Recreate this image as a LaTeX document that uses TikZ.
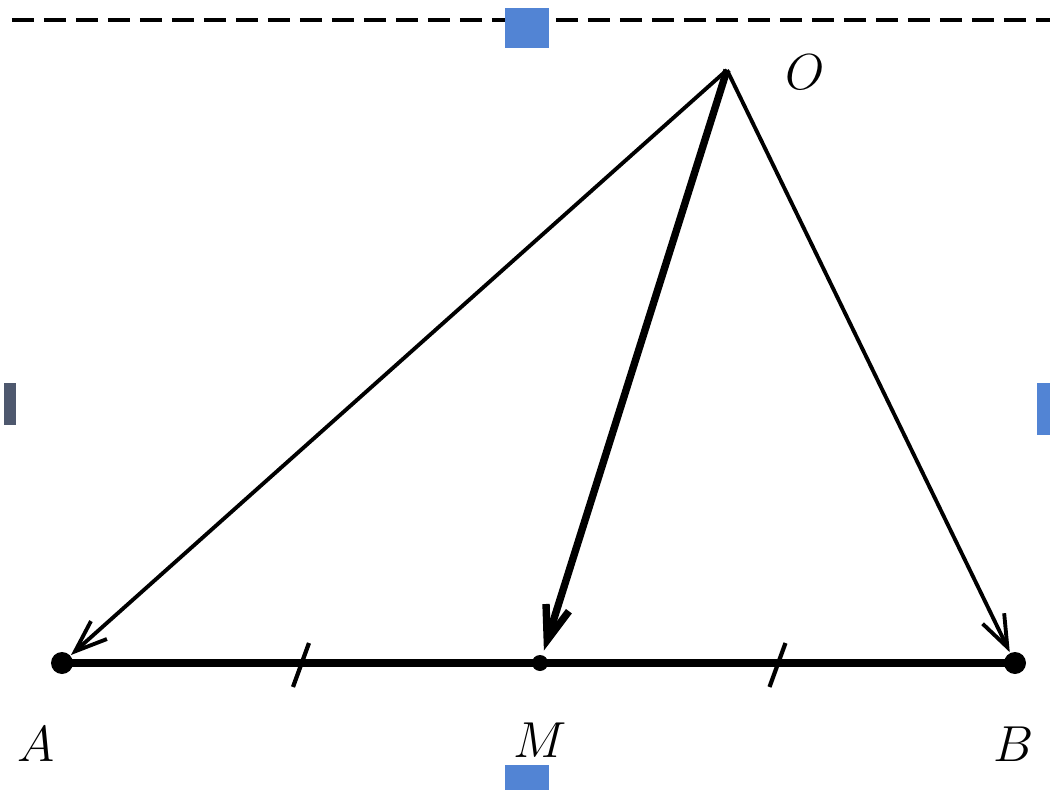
\documentclass[tikz,border=0pt]{standalone}
\usepackage{tikz}
\usepackage{amsmath,amssymb}
\usetikzlibrary{arrows.meta,positioning,calc}
\definecolor{handleblue}{RGB}{82,132,212}
\definecolor{handlegray}{RGB}{78,88,110}
\tikzset{
  vec/.style={line width=1.1pt,-{Straight Barb[length=3.2mm,width=2.4mm]},shorten >=1.2mm},
  thickvec/.style={line width=2.1pt,-{Straight Barb[length=3.4mm,width=2.4mm]},shorten >=1.3mm},
  tick/.style={line width=1.2pt},
  lbl/.style={font=\Large}
}
\begin{document}
\begin{tikzpicture}
  \useasboundingbox (0,0) rectangle (10.5,7.9);
  % selection frame
  \draw[line width=1.4pt,dash pattern=on 2.2mm off 1mm] (0.12,7.70) -- (10.5,7.70);
  \fill[handleblue] (5.05,7.82) rectangle (5.49,7.42);
  \fill[handleblue] (5.05,0.25) rectangle (5.49,0);
  \fill[handleblue] (10.37,4.07) rectangle (10.5,3.55);
  \fill[handlegray] (0.04,4.07) rectangle (0.16,3.65);
  % points
  \coordinate (O) at (7.27,7.20);
  \coordinate (A) at (0.62,1.27);
  \coordinate (M) at (5.40,1.27);
  \coordinate (B) at (10.15,1.27);
  \node[lbl] (o) at (8.05,7.18) {$O$};
  \node[lbl] (a) at (0.36,0.46) {$A$};
  \node[lbl] (m) at (5.40,0.50) {$M$};
  \node[lbl] (b) at (10.14,0.46) {$B$};
  % base with midpoint
  \draw[line width=2.1pt] (A) -- (B);
  \draw[tick] ($(A)!0.5!(M)+(-0.08,-0.24)$) -- ($(A)!0.5!(M)+(0.08,0.20)$);
  \draw[tick] ($(M)!0.5!(B)+(-0.08,-0.24)$) -- ($(M)!0.5!(B)+(0.08,0.20)$);
  % vectors
  \draw[vec] (O) -- (A);
  \draw[thickvec] (O) -- (M);
  \draw[vec] (O) -- (B);
  \fill (A) circle (0.11);
  \fill (B) circle (0.11);
  \fill (M) circle (0.08);
\end{tikzpicture}
\end{document}
